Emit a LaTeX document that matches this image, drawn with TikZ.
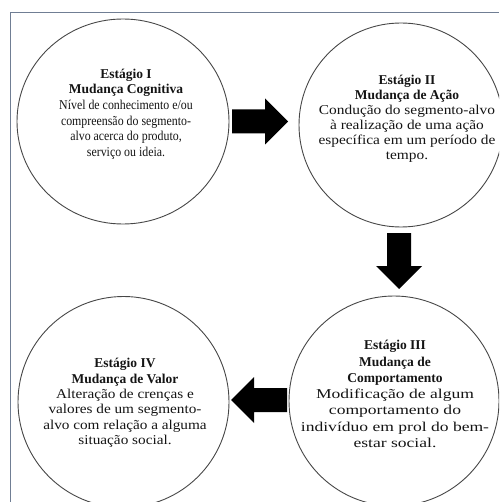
\documentclass[tikz,border=0pt]{standalone}
\usepackage{fontspec}
\setmainfont{Liberation Serif}
\newfontfamily\bodyI[FakeStretch=0.88]{Liberation Serif}
\newfontfamily\bodyII[FakeStretch=1.14]{Liberation Serif}
\newfontfamily\bodyIII[FakeStretch=1.3]{Liberation Serif}
\newfontfamily\bodyIV[FakeStretch=1.13]{Liberation Serif}
\usetikzlibrary{shapes.geometric}
\definecolor{framecol}{RGB}{112,126,148}
\newcommand\stagetitle[1]{{\rmfamily\bfseries #1}}
\tikzset{
  frameline/.style={draw=framecol, line width=1pt},
  stage/.style={draw=black!72, line width=0.9pt, inner sep=0pt},
  stagetext/.style={align=center, inner sep=0pt, text=black!92},
  pics/blockarrow/.style={code={
    \fill[black] (-28,-12) -- (5,-12) -- (5,-23) -- (28,0) -- (5,23) -- (5,12) -- (-28,12) -- cycle;}}
}
\begin{document}
\begin{tikzpicture}[x=1pt,y=-1pt]
\useasboundingbox (0,0) rectangle (499,502);
\clip (0,0) rectangle (499,502);
\coordinate (fb) at (10,502);
\coordinate (fc) at (10,13);
\coordinate (fr) at (499,13);
\draw[frameline] (fb) -- (fc) -- (fr);

\node[stage, ellipse, minimum width=212pt, minimum height=205pt] (c1) at (123,121.5) {};
\node[stage, circle, minimum size=204pt] (c2) at (401,125) {};
\node[stage, circle, minimum size=210pt] (c3) at (394,401) {};
\node[stage, circle, minimum size=211pt] (c4) at (123.5,402) {};

\node[stagetext, font=\bodyI\fontsize{13.5}{15.6}\selectfont] (t1) at (126,114)
  {\stagetitle{Estágio I}\\\stagetitle{Mudança Cognitiva}\\Nível de conhecimento e/ou\\compreensão do segmento-\\alvo acerca do produto,\\serviço ou ideia.};
\node[stagetext, font=\bodyII\fontsize{13.5}{15}\selectfont] (t2) at (407,118.5)
  {\stagetitle{Estágio II}\\\stagetitle{Mudança de Ação}\\Condução do segmento-alvo\\à realização de uma ação\\específica em um período de\\tempo.};
\node[stagetext, font=\bodyIII\fontsize{13.5}{16.2}\selectfont] (t3) at (395,394)
  {\stagetitle{Estágio III}\\\stagetitle{Mudança de}\\\stagetitle{Comportamento}\\Modificação de algum\\comportamento do\\indivíduo em prol do bem-\\estar social.};
\node[stagetext, font=\bodyIV\fontsize{13.5}{15.4}\selectfont] (t4) at (125,403)
  {\stagetitle{Estágio IV}\\\stagetitle{Mudança de Valor}\\Alteração de crenças e\\valores de um segmento-\\alvo com relação a alguma\\situação social.};

\coordinate (a12) at (260,121.5);
\coordinate (a23) at (399,261);
\coordinate (a34) at (259,400);
\pic at (a12) {blockarrow};
\pic[rotate=-90] at (a23) {blockarrow};
\pic[rotate=180] at (a34) {blockarrow};
\end{tikzpicture}
\end{document}
